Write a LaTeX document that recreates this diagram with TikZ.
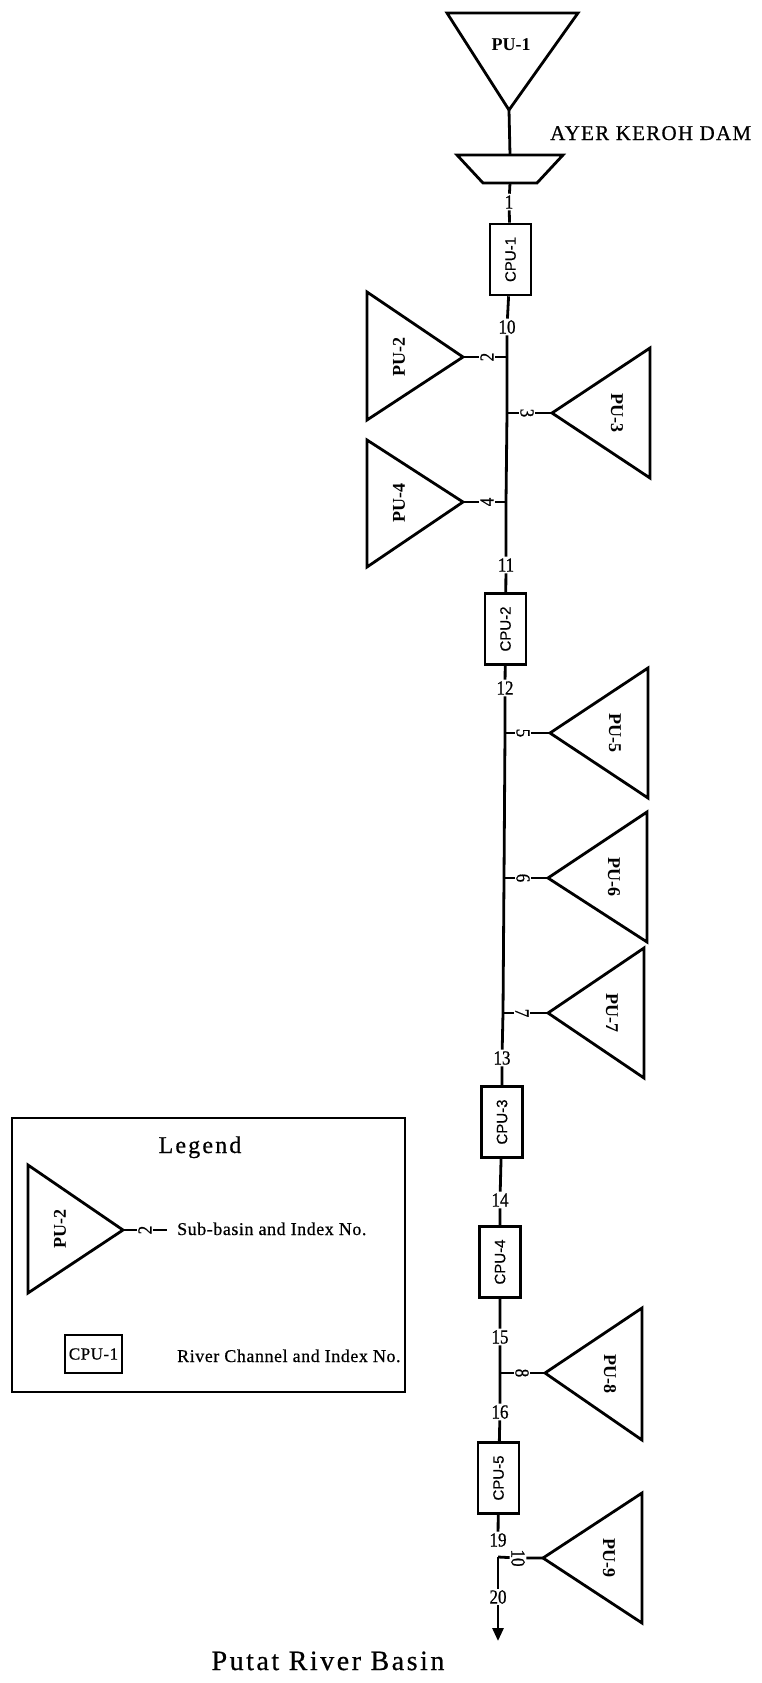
\documentclass[tikz,border=0pt]{standalone}
\usepackage{fontspec}
\setmainfont{Liberation Serif}
\setsansfont{Liberation Sans}
\newfontfamily\idxfont[FakeStretch=0.85, FakeBold=0.7]{Liberation Serif}
\newfontfamily\titlefont[LetterSpace=9, FakeBold=0.6]{Liberation Serif}
\newfontfamily\damfont[LetterSpace=6, FakeBold=0.6]{Liberation Serif}
\newfontfamily\notefont[LetterSpace=3, FakeBold=0.6]{Liberation Serif}
\newfontfamily\boxfont[FakeBold=0.5]{Liberation Sans}
\usetikzlibrary{arrows.meta}

\begin{document}
\begin{tikzpicture}[
  x=1pt, y=-1pt,
  river/.style={line width=2.8pt},
  basin/.style={line width=2.8pt, line join=miter},
  channel/.style={draw, line width=2.6pt, rotate=90, minimum width=71pt, minimum height=41pt, inner sep=0pt, font=\boxfont\fontsize{15}{15}\selectfont},
  pulabel/.style={font=\bfseries\fontsize{18}{18}\selectfont},
  idx/.style={inner sep=1.5pt, font=\idxfont\fontsize{20}{20}\selectfont},
  caption/.style={inner sep=0pt, font=\notefont\fontsize{18}{18}\selectfont},
  outflow/.style={-{Triangle[length=13pt, width=11pt]}, line width=2.8pt}
]
\useasboundingbox (0,0) rectangle (762,1683);

\draw[basin] (447,13) -- (578,13) -- (509,110) coordinate (pu1tip) -- cycle;
\node[pulabel] (pu1) at (511,45) {PU-1};
\draw[basin] (457,155) -- (563,155) -- (537,183) -- (483,183) -- cycle;
\coordinate (damtop) at (510,155);
\coordinate (dambot) at (510,183);
\node[inner sep=0pt, anchor=base west, font=\damfont\fontsize{21}{21}\selectfont] (dam) at (550,140) {AYER KEROH DAM};

\draw[basin] (367,292) -- (463,357) coordinate (pu2tip) -- (367,420) -- cycle;
\node[pulabel, rotate=90] (pu2) at (399,357) {PU-2};
\draw[basin] (650,348) -- (552,413) coordinate (pu3tip) -- (650,478) -- cycle;
\node[pulabel, rotate=-90] (pu3) at (617,413) {PU-3};
\draw[basin] (367,440) -- (463,502) coordinate (pu4tip) -- (367,567) -- cycle;
\node[pulabel, rotate=90] (pu4) at (399,503) {PU-4};
\draw[basin] (648,668) -- (550,733) coordinate (pu5tip) -- (648,798) -- cycle;
\node[pulabel, rotate=-90] (pu5) at (615,733) {PU-5};
\draw[basin] (647,812) -- (548,878) coordinate (pu6tip) -- (647,942) -- cycle;
\node[pulabel, rotate=-90] (pu6) at (614,877) {PU-6};
\draw[basin] (644,948) -- (548,1013) coordinate (pu7tip) -- (644,1078) -- cycle;
\node[pulabel, rotate=-90] (pu7) at (612,1013) {PU-7};
\draw[basin] (642,1308) -- (545,1373) coordinate (pu8tip) -- (642,1440) -- cycle;
\node[pulabel, rotate=-90] (pu8) at (610,1374) {PU-8};
\draw[basin] (642,1493) -- (543,1558) coordinate (pu9tip) -- (642,1623) -- cycle;
\node[pulabel, rotate=-90] (pu9) at (609,1558) {PU-9};

\node[channel] (cpu1) at (510.5,259.5) {CPU-1};
\node[channel] (cpu2) at (505.5,629) {CPU-2};
\node[channel] (cpu3) at (502,1122) {CPU-3};
\node[channel] (cpu4) at (500,1262) {CPU-4};
\node[channel] (cpu5) at (498.5,1478) {CPU-5};

\node[idx] (r1) at (509,202) {1};
\node[idx] (r10) at (507,327) {10};
\node[idx] (r11) at (506,565) {11};
\node[idx] (r12) at (505,688) {12};
\node[idx] (r13) at (502,1058) {13};
\node[idx] (r14) at (500,1200) {14};
\node[idx] (r15) at (500,1337) {15};
\node[idx] (r16) at (500,1412) {16};
\node[idx] (r19) at (498,1540) {19};
\node[idx] (r20) at (498,1597) {20};

\coordinate (j2) at (507,357);
\coordinate (j3) at (507,413);
\coordinate (j4) at (506,502);
\coordinate (j5) at (505,733);
\coordinate (j6) at (504,878);
\coordinate (j7) at (503,1013);
\coordinate (j8) at (500,1373);
\coordinate (j10) at (498,1557);
\coordinate (outlet) at (498,1641);

\node[idx, rotate=90] (s2) at (487,357) {2};
\node[idx, rotate=-90] (s3) at (527,413) {3};
\node[idx, rotate=90] (s4) at (487,502) {4};
\node[idx, rotate=-90] (s5) at (523,733) {5};
\node[idx, rotate=-90] (s6) at (523,878) {6};
\node[idx, rotate=-90] (s7) at (522,1013) {7};
\node[idx, rotate=-90] (s8) at (522,1373) {8};
\node[idx, rotate=-90] (s10) at (518,1558) {10};

\draw[river] (pu1tip) -- (damtop);
\draw[river] (dambot) -- (r1) -- (cpu1) -- (r10) -- (j2) -- (j3) -- (j4) -- (r11) -- (cpu2) -- (r12) -- (j5) -- (j6) -- (j7) -- (r13) -- (cpu3) -- (r14) -- (cpu4) -- (r15) -- (j8) -- (r16) -- (cpu5) -- (r19);
\draw[river] (j10) -- (r20);
\draw[outflow] (r20) -- (outlet);
\draw[river] (j2) -- (s2) -- (pu2tip);
\draw[river] (j3) -- (s3) -- (pu3tip);
\draw[river] (j4) -- (s4) -- (pu4tip);
\draw[river] (j5) -- (s5) -- (pu5tip);
\draw[river] (j6) -- (s6) -- (pu6tip);
\draw[river] (j7) -- (s7) -- (pu7tip);
\draw[river] (j8) -- (s8) -- (pu8tip);
\draw[river] (j10) -- (s10) -- (pu9tip);

\node[draw, line width=2.8pt, minimum width=393pt, minimum height=274pt] (legend) at (208.5,1255) {};
\node[anchor=base, font=\titlefont\fontsize{24}{24}\selectfont] (legendtitle) at (200,1153) {Legend};
\draw[basin] (28,1165) -- (123,1230) coordinate (legtip) -- (28,1293) -- cycle;
\node[pulabel, rotate=90] (legpu) at (60,1229) {PU-2};
\node[idx, rotate=90] (leg2) at (145,1230) {2};
\coordinate (legdash) at (167,1230);
\draw[river] (legtip) -- (leg2) -- (legdash);
\node[caption, anchor=base west] (legsub) at (177,1235) {Sub-basin and Index No.};
\node[draw, line width=2.4pt, minimum width=57pt, minimum height=38pt, inner sep=0pt, font=\notefont\fontsize{17}{17}\selectfont] (legcpu) at (93.5,1354) {CPU-1};
\node[caption, anchor=base west] (legriver) at (177,1362) {River Channel and Index No.};

\node[anchor=base, font=\titlefont\fontsize{28}{28}\selectfont] (title) at (328,1670) {Putat River Basin};
\end{tikzpicture}
\end{document}
